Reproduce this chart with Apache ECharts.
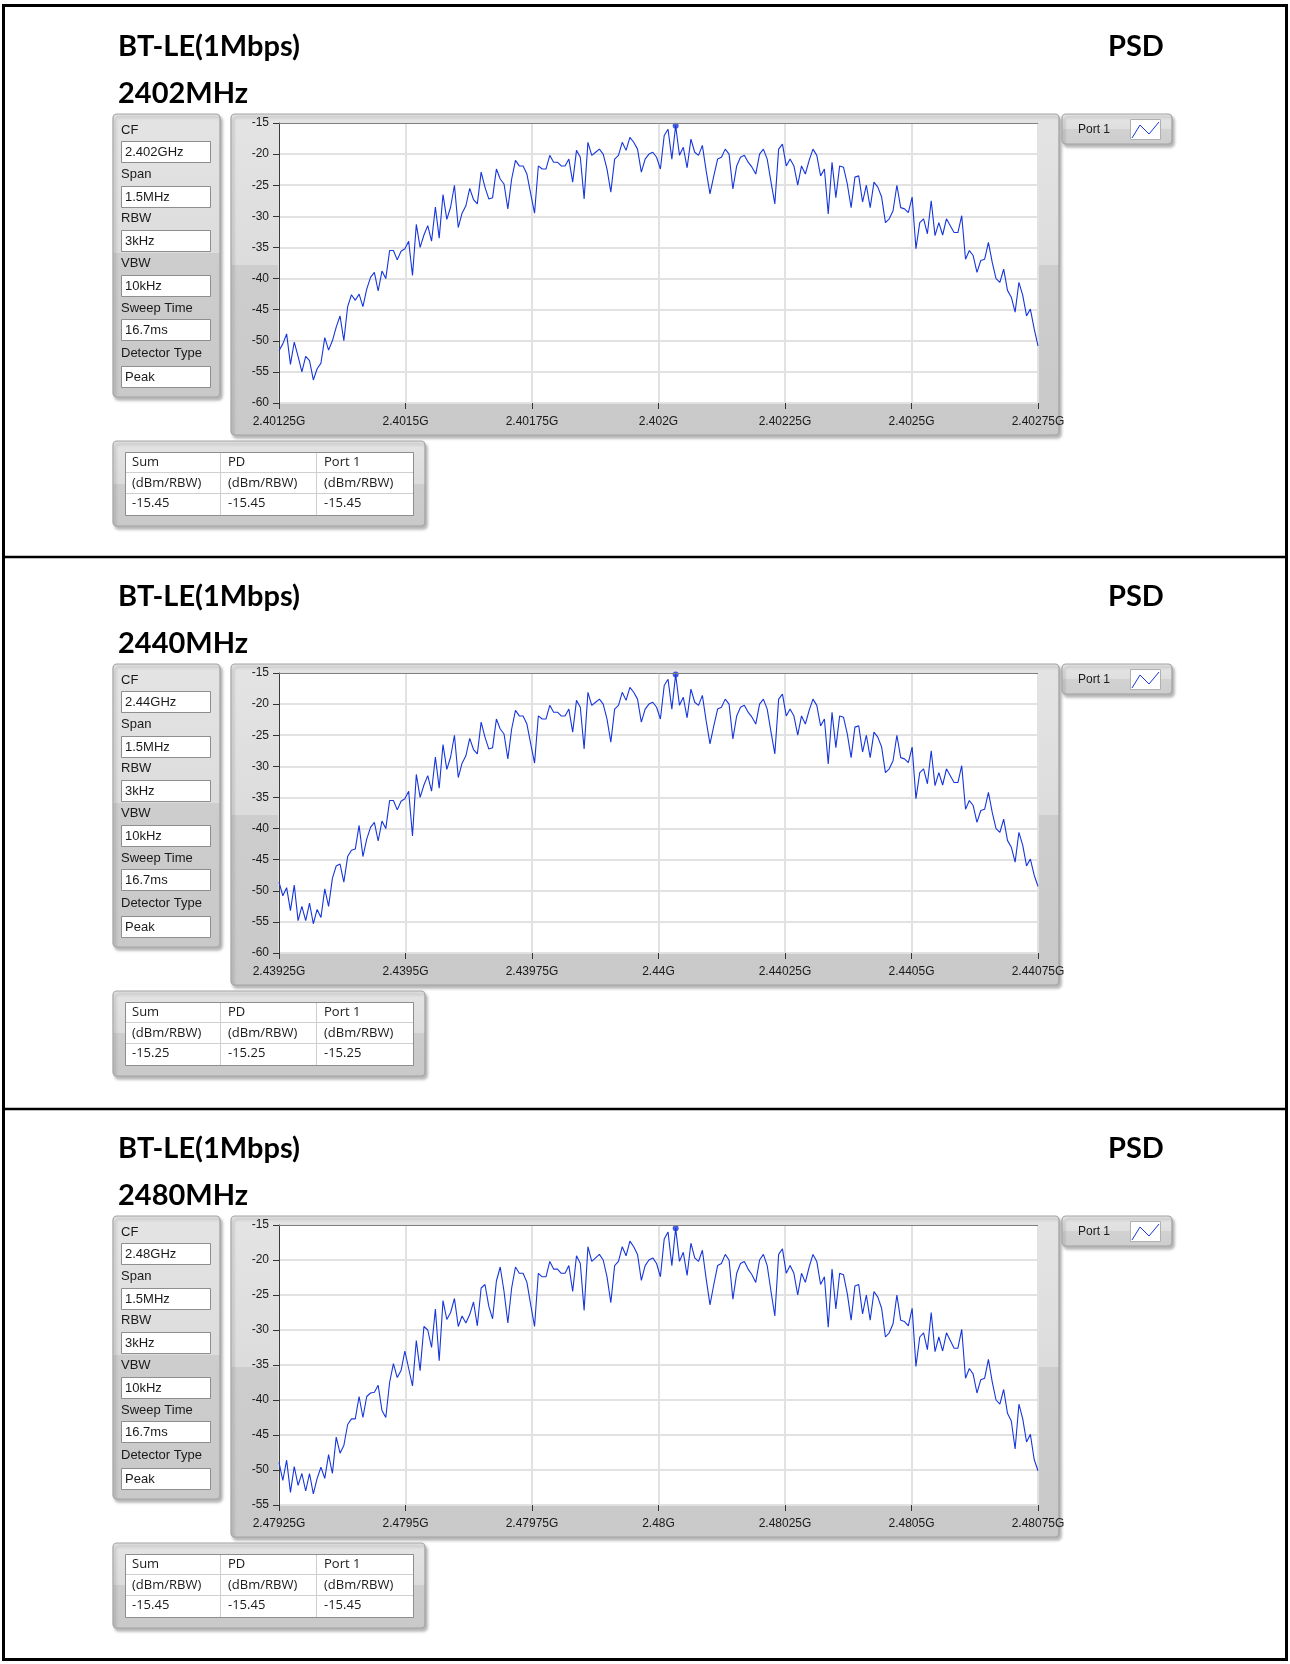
<!DOCTYPE html>
<html><head><meta charset="utf-8">
<script src="https://cdn.jsdelivr.net/npm/echarts@6/dist/echarts.min.js"></script>
<style>html,body{margin:0;padding:0;background:#fff}#c{width:1290px;height:1664px}</style>
</head><body><div id="c"></div>
<script>
// ---------------- data ----------------
const titleMode = 'BT-LE(1Mbps)';
const titleRight = 'PSD';
const channelNames = ['2402MHz', '2440MHz', '2480MHz'];

const settingLabels = ['CF', 'Span', 'RBW', 'VBW', 'Sweep Time', 'Detector Type'];
const settings2402 = ['2.402GHz', '1.5MHz', '3kHz', '10kHz', '16.7ms', 'Peak'];
const settings2440 = ['2.44GHz', '1.5MHz', '3kHz', '10kHz', '16.7ms', 'Peak'];
const settings2480 = ['2.48GHz', '1.5MHz', '3kHz', '10kHz', '16.7ms', 'Peak'];

const ticks2402 = ['2.40125G', '2.4015G', '2.40175G', '2.402G', '2.40225G', '2.4025G', '2.40275G'];
const ticks2440 = ['2.43925G', '2.4395G', '2.43975G', '2.44G', '2.44025G', '2.4405G', '2.44075G'];
const ticks2480 = ['2.47925G', '2.4795G', '2.47975G', '2.48G', '2.48025G', '2.4805G', '2.48075G'];

const yMin = [-60, -60, -55];
const yMax = -15;
const spanKHz = 1500;   // 1.5 MHz span centred on CF

const tableHead = ['Sum', 'PD', 'Port 1'];
const tableUnit = '(dBm/RBW)';
const table2402 = ['-15.45', '-15.45', '-15.45'];
const table2440 = ['-15.25', '-15.25', '-15.25'];
const table2480 = ['-15.45', '-15.45', '-15.45'];
const legendName = 'Port 1';

// PSD traces (dBm/RBW), equally spaced across the span
const psd2402 = [
-51.6,-50.5,-48.9,-53.8,-50.2,-52.5,-55,-52.5,-53.2,-56.3,
-54.5,-53.6,-49.5,-51.5,-50,-47.8,-46,-50,-44.5,-42.6,
-43.5,-42.5,-44.5,-41.7,-39.8,-39,-42,-38.8,-40,-35.5,
-35.5,-37,-35.6,-35.2,-34,-39.5,-31.3,-35,-33,-31.5,
-34,-28.5,-33.5,-26.5,-30.5,-28.5,-25,-31.8,-29.5,-28.3,
-25.5,-27.3,-28,-22.9,-25.3,-27.2,-27,-22.4,-24,-24.8,
-28.8,-24,-21,-21.9,-21.9,-23.2,-26.4,-29.5,-21.9,-22.4,
-22.4,-20.2,-21.3,-21.3,-21.9,-21.9,-20.8,-24.5,-19.4,-20.5,
-27.2,-18.1,-20.2,-19.7,-19.2,-20,-22.4,-26.1,-20.8,-20.2,
-18.1,-19.4,-17.3,-18.1,-19.2,-22.9,-20.8,-20,-19.7,-20.5,
-22.4,-17,-16,-20.8,-15.45,-20.2,-18.9,-22.2,-17.6,-19.7,
-20.2,-18.6,-22.7,-26.4,-23.5,-20.8,-20.5,-19.2,-20,-25.6,
-21.9,-20.5,-20.2,-21.3,-22.1,-23.2,-20,-19.2,-20.8,-24.5,
-28,-19.2,-18.4,-21.9,-20.8,-21.9,-25,-21.9,-23.2,-21,
-19.2,-20.2,-23.5,-22.4,-29.6,-21.3,-27,-21.9,-22.1,-24.8,
-28.6,-23.7,-23.5,-27.7,-25,-28.6,-24.5,-25.3,-26.9,-31,
-30.4,-29.1,-25,-28.6,-28.8,-29.4,-26.9,-35.2,-31,-30.4,
-32.8,-27.5,-33.1,-31,-33,-30.4,-31.5,-32.6,-32.6,-29.9,
-36.9,-35.5,-36.3,-39,-37.1,-36.9,-34.2,-37.4,-40,-40.6,
-38.5,-41.9,-43,-45.4,-40.6,-42.7,-46,-44.9,-48.1,-50.8];

const psd2440 = [
-48.6,-50.8,-49.5,-53.2,-49.1,-54.8,-52.5,-54.8,-52,-55.3,
-53,-54.3,-49.7,-52.5,-48,-46,-45.7,-48.6,-44.5,-43.5,
-43.3,-39.5,-44.5,-41.7,-39.8,-39,-42,-38.8,-40,-35.5,
-35.5,-37,-35.6,-35.2,-34,-41.2,-31.3,-35,-33,-31.5,
-34,-28.5,-33.5,-26.5,-30.5,-28.5,-25,-31.8,-29.5,-28.3,
-25.5,-27.3,-28,-22.9,-25.3,-27.2,-27,-22.4,-24,-24.8,
-28.8,-24,-21,-21.9,-21.9,-23.2,-26.4,-29.5,-21.9,-22.4,
-22.4,-20.2,-21.3,-21.3,-21.9,-21.9,-20.8,-24.5,-19.4,-20.5,
-27.2,-18.1,-20.2,-19.7,-19.2,-20,-22.4,-26.1,-20.8,-20.2,
-18.1,-19.4,-17.3,-18.1,-19.2,-22.9,-20.8,-20,-19.7,-20.5,
-22.4,-17,-16,-20.8,-15.25,-20.2,-18.9,-22.2,-17.6,-19.7,
-20.2,-18.6,-22.7,-26.4,-23.5,-20.8,-20.5,-19.2,-20,-25.6,
-21.9,-20.5,-20.2,-21.3,-22.1,-23.2,-20,-19.2,-20.8,-24.5,
-28,-19.2,-18.4,-21.9,-20.8,-21.9,-25,-21.9,-23.2,-21,
-19.2,-20.2,-23.5,-22.4,-29.6,-21.3,-27,-21.9,-22.1,-24.8,
-28.6,-23.7,-23.5,-27.7,-25,-28.6,-24.5,-25.3,-26.9,-31,
-30.4,-29.1,-25,-28.6,-28.8,-29.4,-26.9,-35.2,-31,-30.4,
-32.8,-27.5,-33.1,-31,-33,-30.4,-31.5,-32.6,-32.6,-29.9,
-36.9,-35.5,-36.3,-39,-37.1,-36.9,-34.2,-37.4,-40,-40.6,
-38.5,-41.9,-43,-45.4,-40.6,-42.7,-46,-44.9,-47.5,-49.3];

const psd2480 = [
-48.9,-51.5,-48.6,-53.2,-49.5,-52.2,-50.5,-53,-50.5,-53.4,
-51.2,-49.6,-51.2,-47.8,-50.5,-45.3,-47.6,-46.5,-43.5,-42.7,
-42.7,-39.5,-42.5,-39.5,-39,-38.9,-37.9,-41.5,-42.5,-37.5,
-34.8,-36.8,-35.8,-33,-35.5,-38,-31.5,-35.8,-29.5,-30,
-32.5,-27,-34.4,-25.8,-28.5,-27.5,-25.5,-29.5,-28,-29,
-27.8,-26,-29.4,-24,-23.5,-26.6,-28.4,-23,-21,-24.5,
-29,-24,-21,-21.9,-21.9,-23.2,-26.4,-29.5,-21.9,-22.4,
-22.4,-20.2,-21.3,-21.3,-21.9,-21.9,-20.8,-24.5,-19.4,-20.5,
-27.2,-18.1,-20.2,-19.7,-19.2,-20,-22.4,-26.1,-20.8,-20.2,
-18.1,-19.4,-17.3,-18.1,-19.2,-22.9,-20.8,-20,-19.7,-20.5,
-22.4,-17,-16,-20.8,-15.45,-20.2,-18.9,-22.2,-17.6,-19.7,
-20.2,-18.6,-22.7,-26.4,-23.5,-20.8,-20.5,-19.2,-20,-25.6,
-21.9,-20.5,-20.2,-21.3,-22.1,-23.2,-20,-19.2,-20.8,-24.5,
-28,-19.2,-18.4,-21.9,-20.8,-21.9,-25,-21.9,-23.2,-21,
-19.2,-20.2,-23.5,-22.4,-29.6,-21.3,-27,-21.9,-22.1,-24.8,
-28.6,-23.7,-23.5,-27.7,-25,-28.6,-24.5,-25.3,-26.9,-31,
-30.4,-29.1,-25,-28.6,-28.8,-29.4,-26.9,-35.2,-31,-30.4,
-32.8,-27.5,-33.1,-31,-33,-30.4,-31.5,-32.6,-32.6,-29.9,
-36.9,-35.5,-36.3,-39,-37.1,-36.9,-34.2,-37.4,-40,-40.6,
-38.5,-41.9,-43,-47,-40.6,-42.7,-46,-44.9,-48.5,-50.1];

// ---------------- layout / build ----------------
const sections = [
  { name: channelNames[0], settings: settings2402, ticks: ticks2402, data: psd2402, table: table2402, ymin: yMin[0] },
  { name: channelNames[1], settings: settings2440, ticks: ticks2440, data: psd2440, table: table2440, ymin: yMin[1] },
  { name: channelNames[2], settings: settings2480, ticks: ticks2480, data: psd2480, table: table2480, ymin: yMin[2] }
];
const offsets = [0, 550, 1102];
const PL = 279, PW = 759, PT = 123, PH = 280;
const BLUE = '#1636dc';
const AX_FONT = 'Liberation Sans';

function grad(split, top, bot) {
  return { type: 'linear', x: 0, y: 0, x2: 0, y2: 1, colorStops: [
    { offset: 0, color: top[0] }, { offset: split, color: top[1] },
    { offset: split, color: bot[0] }, { offset: 1, color: bot[1] } ] };
}
const shadow = { shadowBlur: 3, shadowOffsetX: 2, shadowOffsetY: 3, shadowColor: 'rgba(0,0,0,0.28)' };
function panel(x, y, w, h, split) {
  return { type: 'rect', z: -5, shape: { x: x, y: y, width: w, height: h, r: 4 },
    style: Object.assign({ fill: grad(split, ['#e4e4e4', '#dcdcdc'], ['#cdcdcd', '#c9c9c9']), stroke: '#a3a3a3', lineWidth: 1.2 }, shadow) };
}
function txt(x, y, t, font, align, color) {
  return { type: 'text', z: 20, x: x, y: y, style: { text: t, font: font, fill: color || '#111', align: align || 'left', verticalAlign: 'middle' } };
}
function hline(x1, x2, y, c, w, z) { return { type: 'line', z: z || 10, shape: { x1: x1, y1: y, x2: x2, y2: y }, style: { stroke: c, lineWidth: w } }; }
function vline(x, y1, y2, c, w, z) { return { type: 'line', z: z || 10, shape: { x1: x, y1: y1, x2: x, y2: y2 }, style: { stroke: c, lineWidth: w } }; }

const graphics = [];
// outer frame & separators
graphics.push({ type: 'rect', z: 30, shape: { x: 3.5, y: 5.5, width: 1283, height: 1654 }, style: { fill: null, stroke: '#000', lineWidth: 3 } });
graphics.push(hline(3, 1287, 557, '#000', 2.5, 30));
graphics.push(hline(3, 1287, 1109, '#000', 2.5, 30));

const grids = [], xAxes = [], yAxes = [], series = [];
sections.forEach(function (s, k) {
  const o = offsets[k];
  // titles
  graphics.push(txt(118, 47 + o, titleMode, 'bold 29px Lato', 'left', '#000'));
  graphics.push(txt(118, 94 + o, s.name, 'bold 29px Lato', 'left', '#000'));
  graphics.push(txt(1108, 47 + o, titleRight, 'bold 29px Lato', 'left', '#000'));

  // settings panel
  graphics.push(panel(113, 114 + o, 107, 283, 0.49));
  s.settings.forEach(function (v, j) {
    const ly = [130, 174, 218, 263, 308, 353][j] + o;
    const by = [141, 186, 230, 275, 319, 366][j] + o;
    graphics.push(txt(121, ly, settingLabels[j], '13px Liberation Sans', 'left', '#1a1a1a'));
    graphics.push({ type: 'rect', z: 5, shape: { x: 121.5, y: by + 0.5, width: 89, height: 21 },
      style: { fill: '#fff', stroke: '#8e8e8e', lineWidth: 1 } });
    graphics.push(txt(125, by + 11, v, '13px Liberation Sans', 'left', '#1a1a1a'));
  });

  // chart panel
  graphics.push(panel(231, 114 + o, 828, 321, 0.47));
  graphics.push({ type: 'rect', z: -4, shape: { x: PL, y: PT + o, width: PW, height: PH }, style: { fill: '#fff' } });
  graphics.push(hline(PL, PL + PW, PT + o + 0.5, '#808080', 1, 10));

  // legend
  graphics.push({ type: 'rect', z: -5, shape: { x: 1062, y: 114 + o, width: 110, height: 30, r: 4 },
    style: Object.assign({ fill: grad(0.5, ['#e6e6e6', '#dedede'], ['#d2d2d2', '#cdcdcd']), stroke: '#a3a3a3', lineWidth: 1.2 }, shadow) });
  graphics.push(txt(1078, 130 + o, legendName, '12px Liberation Sans', 'left', '#1a1a1a'));
  graphics.push({ type: 'rect', z: 5, shape: { x: 1130.5, y: 119.5 + o, width: 30, height: 20 }, style: { fill: '#fff', stroke: '#b0b0b0', lineWidth: 1 } });
  graphics.push({ type: 'polyline', z: 6, shape: { points: [[1132, 138 + o], [1140, 125 + o], [1149, 134 + o], [1159, 122 + o]] }, style: { stroke: BLUE, fill: null, lineWidth: 1 } });

  // table panel
  graphics.push(panel(113, 441 + o, 312, 85, 0.5));
  graphics.push({ type: 'rect', z: 5, shape: { x: 125.5, y: 452.5 + o, width: 288, height: 63 }, style: { fill: '#fff', stroke: '#8e8e8e', lineWidth: 1 } });
  graphics.push(hline(126, 413, 472.5 + o, '#cfcfcf', 1, 6));
  graphics.push(hline(126, 413, 493.5 + o, '#cfcfcf', 1, 6));
  graphics.push(vline(220.5, 453 + o, 515 + o, '#cfcfcf', 1, 6));
  graphics.push(vline(316.5, 453 + o, 515 + o, '#cfcfcf', 1, 6));
  const cx = [132, 228, 324];
  tableHead.forEach(function (h, j) {
    graphics.push(txt(cx[j], 462 + o, h, '13px Open Sans', 'left', '#1a1a1a'));
    graphics.push(txt(cx[j], 483 + o, tableUnit, '13px Open Sans', 'left', '#1a1a1a'));
    graphics.push(txt(cx[j], 503 + o, s.table[j], '13px Open Sans', 'left', '#1a1a1a'));
  });

  // chart
  grids.push({ left: PL, top: PT + o, width: PW, height: PH, show: false });
  const ticks = s.ticks;
  xAxes.push({
    gridIndex: k, type: 'value', min: -spanKHz / 2, max: spanKHz / 2, interval: spanKHz / 6,
    axisLine: { show: false, onZero: false },
    axisTick: { show: true, length: 6, lineStyle: { color: '#333', width: 1 } },
    splitLine: { show: true, lineStyle: { color: '#e2e2e2', width: 2 } },
    axisLabel: { margin: 13, color: '#1a1a1a', fontFamily: AX_FONT, fontSize: 12, hideOverlap: false,
      showMinLabel: true, showMaxLabel: true,
      formatter: function (v) { return ticks[Math.round((v + spanKHz / 2) / (spanKHz / 6))]; } }
  });
  yAxes.push({
    gridIndex: k, type: 'value', min: s.ymin, max: yMax, interval: 5,
    axisLine: { show: true, onZero: false, lineStyle: { color: '#3a3a3a', width: 1 } },
    axisTick: { show: true, length: 6, lineStyle: { color: '#333', width: 1 } },
    splitLine: { show: true, lineStyle: { color: '#e2e2e2', width: 2 } },
    axisLabel: { margin: 10, color: '#1a1a1a', fontFamily: AX_FONT, fontSize: 12 }
  });
  const n = s.data.length;
  const pts = s.data.map(function (v, i) { return [-spanKHz / 2 + i * spanKHz / (n - 1), v]; });
  let pk = 0;
  s.data.forEach(function (v, i) { if (v > s.data[pk]) pk = i; });
  series.push({ type: 'line', xAxisIndex: k, yAxisIndex: k, data: pts, showSymbol: false, symbol: 'none',
    lineStyle: { color: BLUE, width: 1.1 }, silent: true, z: 3 });
  series.push({ type: 'scatter', xAxisIndex: k, yAxisIndex: k, data: [pts[pk]], symbol: 'circle', symbolSize: 6,
    itemStyle: { color: BLUE }, silent: true, z: 4 });
});

const chart = echarts.init(document.getElementById('c'), null, { renderer: 'canvas' });
chart.setOption({
  animation: false,
  backgroundColor: '#ffffff',
  grid: grids, xAxis: xAxes, yAxis: yAxes, series: series,
  graphic: { elements: graphics }
});
</script>
</body></html>
